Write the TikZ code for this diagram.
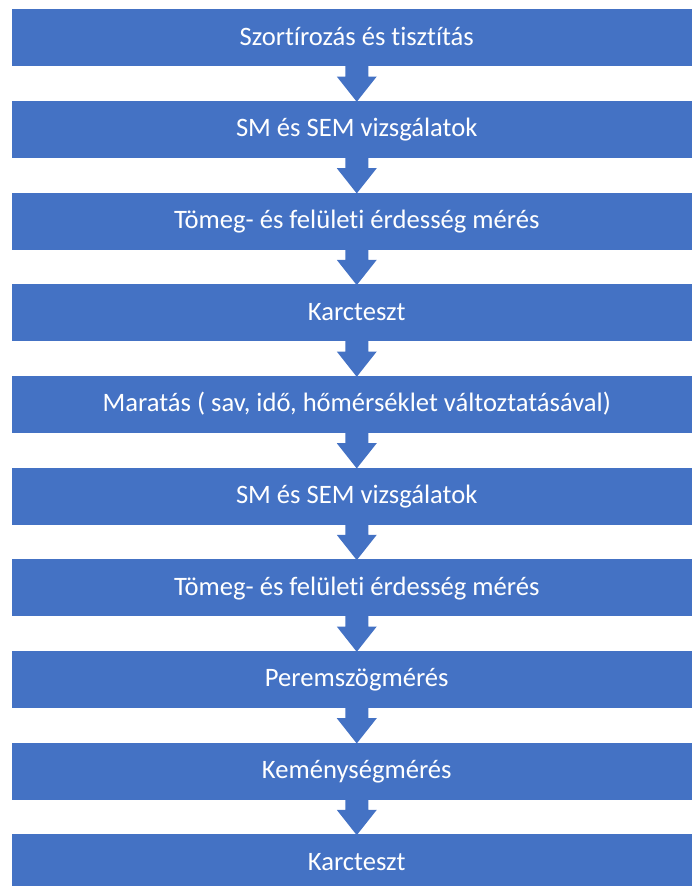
\documentclass[tikz,border=0pt]{standalone}
\usepackage{fontspec}
\setmainfont{Carlito}[Ligatures={NoCommon}]
\usetikzlibrary{calc}
\definecolor{boxblue}{RGB}{68,114,196}
\tikzset{
  stepbox/.style={rectangle, fill=boxblue, draw=none, text=white,
    minimum width=690.5pt, minimum height=57pt, inner sep=0pt,
    text height=19pt, text depth=4pt,
    font=\fontsize{26.6pt}{32pt}\selectfont},
  flowarrow/.style={fill=boxblue, draw=none}
}
\newcommand{\flowdown}[2]{%
  \fill[flowarrow] ($(#1.south)+(-11.5pt,0.5pt)$) -- ($(#1.south)+(-11.5pt,-10pt)$)
    -- ($(#1.south)+(-20pt,-10pt)$) -- ($(#2.north)+(0,-1pt)$)
    -- ($(#1.south)+(20pt,-10pt)$) -- ($(#1.south)+(11.5pt,-10pt)$)
    -- ($(#1.south)+(11.5pt,0.5pt)$) -- cycle;}
\begin{document}
\begin{tikzpicture}[x=1pt,y=1pt]
\useasboundingbox (0,0) rectangle (692,-886);
\clip (0,0) rectangle (692,-886);
\node[stepbox] (b1)  at (356.75,-37.8)  {Szortírozás és tisztítás};
\node[stepbox] (b2)  at (356.75,-129.47) {SM és SEM vizsgálatok};
\node[stepbox] (b3)  at (356.75,-221.14) {Tömeg- és felületi érdesség mérés};
\node[stepbox] (b4)  at (356.75,-312.81) {Karcteszt};
\node[stepbox] (b5)  at (356.75,-404.48) {Maratás ( sav, idő, hőmérséklet változtatásával)};
\node[stepbox] (b6)  at (356.75,-496.15) {SM és SEM vizsgálatok};
\node[stepbox] (b7)  at (356.75,-587.82) {Tömeg- és felületi érdesség mérés};
\node[stepbox] (b8)  at (356.75,-679.49) {Peremszögmérés};
\node[stepbox] (b9)  at (356.75,-771.16) {Keménységmérés};
\node[stepbox] (b10) at (356.75,-862.83) {Karcteszt};
\flowdown{b1}{b2}
\flowdown{b2}{b3}
\flowdown{b3}{b4}
\flowdown{b4}{b5}
\flowdown{b5}{b6}
\flowdown{b6}{b7}
\flowdown{b7}{b8}
\flowdown{b8}{b9}
\flowdown{b9}{b10}
\end{tikzpicture}
\end{document}
